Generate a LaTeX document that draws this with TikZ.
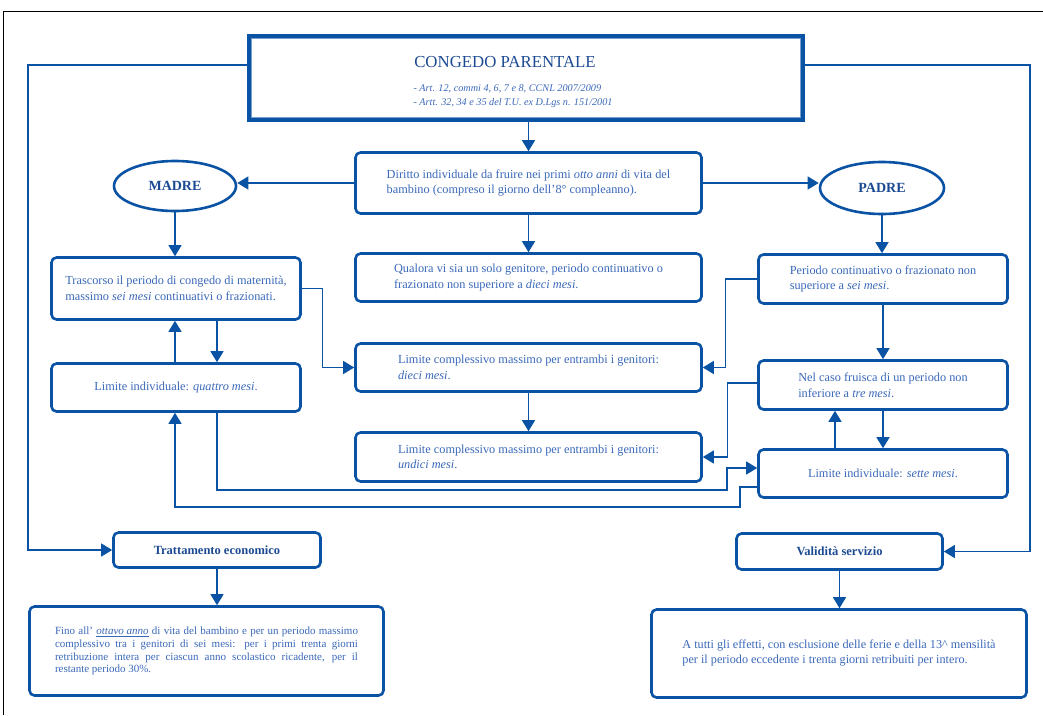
\documentclass[tikz,border=0pt]{standalone}
\usepackage{fontspec}
\setmainfont{Liberation Serif}
\usetikzlibrary{arrows.meta,shapes.geometric}
\definecolor{bord}{HTML}{0A52A3}
\definecolor{txtb}{HTML}{3A68B8}
\definecolor{headb}{HTML}{1C4A92}
\begin{document}
\begin{tikzpicture}[x=1pt,y=-1pt,
  box/.style={draw=bord, line width=2.6pt, rounded corners=5pt, align=left, text=txtb,
    inner sep=0pt, font=\fontsize{12.3}{15.5}\selectfont},
  headbox/.style={box, text=headb, font=\fontsize{12.5}{15}\selectfont\bfseries},
  oval/.style={ellipse, draw=bord, line width=2.6pt, text=headb, inner sep=0pt,
    font=\fontsize{14}{16}\selectfont\bfseries},
  conn/.style={draw=bord, line width=1.3pt},
  arr/.style={conn, -{Triangle[width=13pt,length=11pt]}},
]
\useasboundingbox (0,0) rectangle (1043,715);
% page frame
\draw[black, line width=1pt] (3,715) -- (3,11) -- (1043,11);

% title
\node[draw=bord, line width=4.5pt, minimum width=553pt, minimum height=83pt, inner sep=0pt] (title) at (526,78) {};
\draw[bord!55, line width=0.8pt] ([shift={(4.5pt,-4.5pt)}]title.north west) rectangle ([shift={(-4.5pt,4.5pt)}]title.south east);
\node[text=headb, font=\fontsize{16.8}{20}\selectfont] (ttl) at (505,62) {CONGEDO PARENTALE};
\node[anchor=west, align=left, text=txtb, font=\fontsize{10.2}{14}\selectfont\itshape] (tsub) at (410,96)
  {- Art. 12, commi 4, 6, 7 e 8, CCNL 2007/2009\\- Artt. 32, 34 e 35 del T.U. ex D.Lgs n. 151/2001};

% ovals
\node[oval, minimum width=122pt, minimum height=50pt] (madre) at (175,186) {MADRE};
\node[oval, minimum width=124pt, minimum height=52pt] (padre) at (882,188) {PADRE};

% central column
\node[box, minimum width=346pt, minimum height=61pt] (diritto) at (528.5,183)
  {Diritto individuale da fruire nei primi \textit{otto anni} di vita del\\bambino (compreso il giorno dell'8° compleanno).};
\node[box, minimum width=346pt, minimum height=48pt] (qualora) at (528.5,277.5)
  {Qualora vi sia un solo genitore, periodo continuativo o\\frazionato non superiore a \textit{dieci mesi}.};
\node[box, minimum width=346pt, minimum height=48pt] (dieci) at (528.5,367.5)
  {Limite complessivo massimo per entrambi i genitori:\\\textit{dieci mesi}.};
\node[box, minimum width=346pt, minimum height=49pt] (sedici) at (528.5,457)
  {Limite complessivo massimo per entrambi i genitori:\\\textit{undici mesi}.};

% left column
\node[box, minimum width=249pt, minimum height=62pt] (trascorso) at (176,288.5)
  {Trascorso il periodo di congedo di maternità,\\massimo \textit{sei mesi} continuativi o frazionati.};
\node[box, minimum width=249pt, minimum height=48pt] (quattro) at (176,387.5)
  {Limite individuale: \textit{quattro mesi}.};

% right column
\node[box, minimum width=249pt, minimum height=49pt] (periodo) at (883,279)
  {Periodo continuativo o frazionato non\\superiore a \textit{sei mesi}.};
\node[box, minimum width=249pt, minimum height=49pt] (nelcaso) at (883,385)
  {Nel caso fruisca di un periodo non\\inferiore a \textit{tre mesi}.};
\node[box, minimum width=249pt, minimum height=48pt] (sette) at (883,473.5)
  {Limite individuale: \textit{sette mesi}.};

% bottom
\node[headbox, minimum width=207pt, minimum height=35pt] (tratt) at (217,550) {Trattamento economico};
\node[headbox, minimum width=206pt, minimum height=36pt] (valid) at (839.5,551.5) {Validità servizio};
\node[box, minimum width=354pt, minimum height=89pt, text width=303pt, align=justify,
  font=\fontsize{11}{12.7}\selectfont] (econ) at (206.5,651)
  {Fino all' \underline{\textit{ottavo anno}} di vita del bambino e per un periodo massimo\linebreak
   complessivo tra i genitori di sei mesi: per i primi trenta giorni\linebreak
   retribuzione intera per ciascun anno scolastico ricadente, per il\linebreak
   restante periodo 30\%.};
\node[box, minimum width=375pt, minimum height=88pt, font=\fontsize{12.2}{15}\selectfont] (serv) at (839,653.5)
  {A tutti gli effetti, con esclusione delle ferie e della 13\textasciicircum{} mensilità\\per il periodo eccedente i trenta giorni retribuiti per intero.};

% junction coordinates
\coordinate (l1) at (28,550);
\coordinate (r1) at (1030,551.5);
\coordinate (j1) at (727,490);
\coordinate (j2) at (740,507);

% connectors
\draw[arr] (title.south -| diritto.north) -- (diritto.north);
\draw[arr] (diritto.west) -- (diritto.west -| madre.east);
\draw[arr] (diritto.east) -- (diritto.east -| padre.west);
\draw[arr] (madre.south) -- (madre.south |- trascorso.north);
\draw[arr] (padre.south) -- (padre.south |- periodo.north);
\draw[arr] (diritto.south) -- (qualora.north);
\draw[arr] (dieci.south) -- (sedici.north);
\draw[arr] (periodo.south) -- (nelcaso.north);
\draw[arr] (nelcaso.south) -- (sette.north);
\draw[arr] ([xshift=-48pt]sette.north) -- ([xshift=-48pt]nelcaso.south);
\draw[arr] ([xshift=-1pt]quattro.north) -- ([xshift=-1pt]trascorso.south);
\draw[arr] ([xshift=41pt]trascorso.south) -- ([xshift=41pt]quattro.north);
\draw[arr] (trascorso.east) -- ++(21,0) |- (dieci.west);
\draw[arr] (periodo.west) -- ++(-32,0) |- (dieci.east);
\draw[arr] ([yshift=2pt]nelcaso.west) -- ++(-30,0) |- (sedici.east);
\draw[arr] ([xshift=41pt]quattro.south) |- (j1) |- ([yshift=5.5pt]sette.west);
\draw[arr] ([yshift=-13.5pt]sette.west) -| (j2) -| ([xshift=-1pt]quattro.south);
\draw[arr] ([yshift=13pt]title.west) -| (l1) -- (tratt.west);
\draw[arr] ([yshift=13pt]title.east) -| (r1) -- (valid.east);
\draw[arr] (tratt.south) -- (tratt.south |- econ.north);
\draw[arr] (valid.south) -- (valid.south |- serv.north);
\end{tikzpicture}
\end{document}
